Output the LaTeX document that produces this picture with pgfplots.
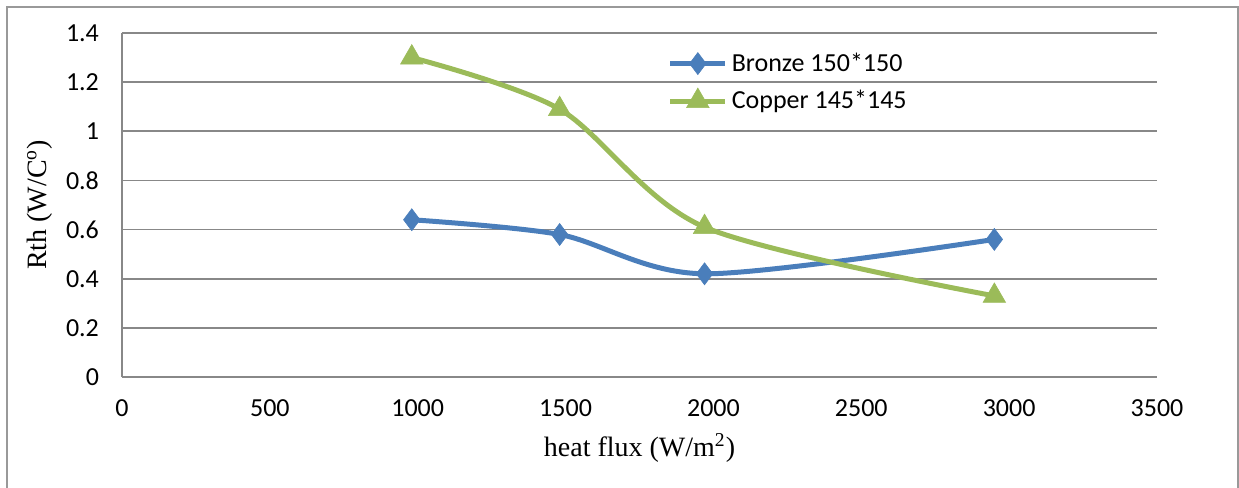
\documentclass[border=0pt]{standalone}
\usepackage{pgfplots}
\pgfplotsset{compat=1.18}
\usepackage{fontspec}
\setmainfont{Liberation Serif}
\newfontfamily\carlito{Carlito}
\usetikzlibrary{calc}
\definecolor{exblue}{HTML}{4A7EBB}
\definecolor{exgreen}{HTML}{9BBB59}
\definecolor{gridgray}{HTML}{888888}
\begin{document}
\begin{tikzpicture}
\begin{axis}[
  name=ax,
  scale only axis,
  width=517.5pt, height=172pt,
  xmin=0, xmax=3500, ymin=0, ymax=1.4,
  xtick={0,500,...,3500},
  ytick={0,0.2,0.4,0.6,0.8,1,1.2,1.4},
  axis x line*=bottom, axis y line*=left,
  axis line style={gridgray, line width=0.9pt, -},
  major tick length=0pt,
  ymajorgrids=true,
  grid style={gridgray, line width=0.9pt},
  /pgf/number format/1000 sep={},
  /pgf/number format/assume math mode=true,
  tick label style={font=\carlito\fontsize{13}{15}\selectfont},
  xticklabel style={yshift=-8pt},
  yticklabel style={xshift=-8pt},
  xlabel={heat flux (W/m\textsuperscript{2})},
  ylabel={Rth (W/C\textsuperscript{o})},
  every axis x label/.style={at={(axis description cs:0.5,0)}, anchor=center, yshift=-35.5pt, font=\fontsize{14}{16}\selectfont},
  every axis y label/.style={at={(axis description cs:0,0.5)}, anchor=center, xshift=-41pt, rotate=90, font=\fontsize{14}{16}\selectfont},
  legend style={at={(axis description cs:0.527,0.955)}, anchor=north west, draw=none, fill=none,
    font=\carlito\fontsize{13}{15}\selectfont, row sep=4pt, inner sep=0pt},
  legend cell align=left,
  legend image code/.code={\draw[mark repeat=2,mark phase=2] plot coordinates {(0pt,0pt) (13.75pt,0pt) (27.5pt,0pt)};},
]
\addplot[exblue, line width=2.5pt, smooth, tension=0.5, mark=diamond*, mark size=5.5pt,
  mark options={solid, line width=0.3pt, fill=exblue}]
  coordinates {(980,0.64) (1480,0.58) (1970,0.42) (2950,0.56)};
\addlegendentry{Bronze 150*150}
\addplot[exgreen, line width=2.5pt, smooth, tension=0.5, mark=triangle*, mark size=6.5pt,
  mark options={solid, line width=0.3pt, fill=exgreen}]
  coordinates {(980,1.30) (1480,1.09) (1970,0.61) (2950,0.33)};
\addlegendentry{Copper 145*145}
\end{axis}
\pgfresetboundingbox
\path[use as bounding box] ($(ax.south west)+(-61pt,-55.5pt)$) rectangle ++(619.5pt,244pt);
\draw[gray!80, line width=1.2pt] ($(ax.south west)+(-57.5pt,-62pt)$) -- ++(0,247pt) -- ++(615.5pt,0) -- ++(0,-247pt);
\end{tikzpicture}
\end{document}
